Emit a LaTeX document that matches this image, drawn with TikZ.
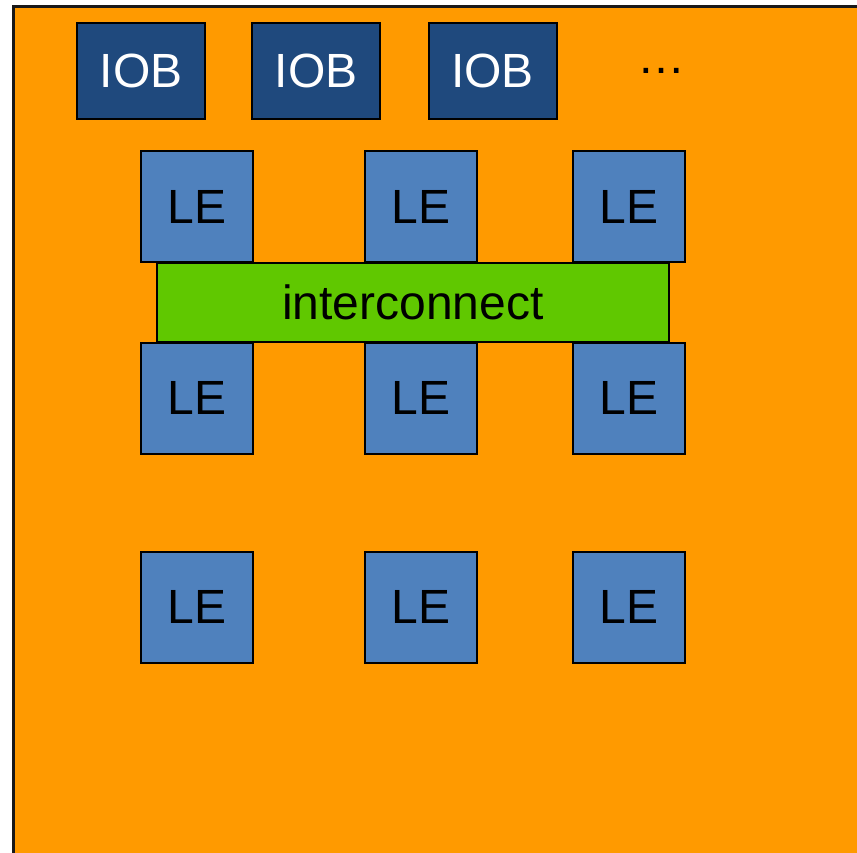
\documentclass[tikz,border=0pt]{standalone}
\usepackage{fontspec}
\setmainfont{Liberation Sans}
\definecolor{chipbg}{HTML}{FF9A00}
\definecolor{iobfill}{HTML}{1F497D}
\definecolor{lefill}{HTML}{4F81BD}
\definecolor{icfill}{HTML}{60C800}
\begin{document}
\begin{tikzpicture}[x=1pt,y=-1pt,
  lbl/.style={font=\fontsize{48}{48}\selectfont, inner sep=0pt},
  iobbox/.style={lbl, draw=black, line width=2pt, fill=iobfill, text=white,
    minimum width=128pt, minimum height=96pt},
  lebox/.style={lbl, draw=black, line width=2pt, fill=lefill, text=black,
    minimum width=112pt, minimum height=111pt},
  icbox/.style={lbl, draw=black, line width=2pt, fill=icfill, text=black,
    minimum width=512pt, minimum height=79pt}]
\useasboundingbox (0,0) rectangle (857,852);
\clip (0,0) rectangle (857,852);
% chip die
\draw[line width=3pt, draw=black!90, fill=chipbg] (13,6.5) rectangle (880,880);
% I/O blocks
\node[iobbox] (iob1) at (141,71) {IOB};
\node[iobbox] (iob2) at (316,71) {IOB};
\node[iobbox] (iob3) at (492.5,71) {IOB};
\node[lbl] (more) at (661,71) {…};
% logic elements
\node[lebox] (le11) at (197,206.5) {LE};
\node[lebox] (le12) at (421,206.5) {LE};
\node[lebox] (le13) at (629,206.5) {LE};
\node[lebox] (le21) at (197,398) {LE};
\node[lebox] (le22) at (421,398) {LE};
\node[lebox] (le23) at (629,398) {LE};
\node[lebox] (le31) at (197,607) {LE};
\node[lebox] (le32) at (421,607) {LE};
\node[lebox] (le33) at (629,607) {LE};
% routing fabric
\node[icbox] (ic) at (413,302.5) {interconnect};
\end{tikzpicture}
\end{document}
